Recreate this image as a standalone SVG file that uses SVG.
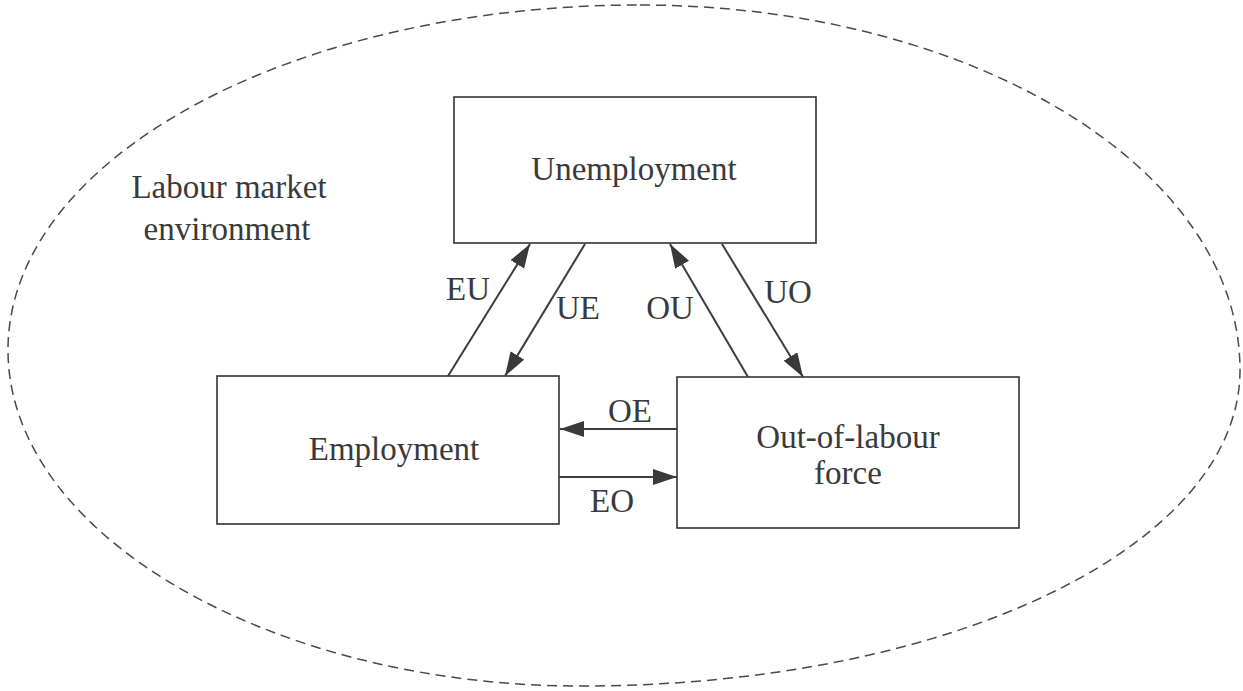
<svg xmlns="http://www.w3.org/2000/svg" width="1243" height="691" viewBox="0 0 1243 691">
  <style>
    .box { fill: #ffffff; stroke: #333333; stroke-width: 1.6; }
    .env { fill: none; stroke: #4a4a4a; stroke-width: 1.5; stroke-dasharray: 10 6; }
    .flow { fill: none; stroke: #3c3c3c; stroke-width: 2; marker-end: url(#head); }
    text { font-family: "Liberation Serif", "Times New Roman", serif; font-size: 33px; fill: #3a3a3a; }
    .c { text-anchor: middle; }
  </style>
  <defs>
    <marker id="head" markerUnits="userSpaceOnUse" markerWidth="26" markerHeight="18" refX="24" refY="8" orient="auto">
      <path d="M0,0 L24,8 L0,16 Z" fill="#3a3a3a"/>
    </marker>
  </defs>

  <rect width="1243" height="691" fill="#ffffff"/>

  <!-- labour market environment boundary -->
  <g id="environment">
    <path class="env" d="M640,5 C971,5 1240,168 1240,370 C1240,545 953,686 580,686 C273,686 8,536 8,350 C8,159 291,5 640,5 Z"/>
    <text x="229" y="198" class="c">Labour market</text>
    <text x="227" y="240" class="c">environment</text>
  </g>

  <g id="unemployment">
    <rect class="box" x="454" y="97" width="362" height="146"/>
    <text x="634" y="180" class="c">Unemployment</text>
  </g>

  <g id="employment">
    <rect class="box" x="217" y="376" width="342" height="148"/>
    <text x="394" y="460" class="c">Employment</text>
  </g>

  <g id="out-of-labour-force">
    <rect class="box" x="677" y="377" width="342" height="151"/>
    <text x="848" y="448" class="c">Out-of-labour</text>
    <text x="848" y="484" class="c">force</text>
  </g>

  <!-- flows between states -->
  <g id="connectors">
    <line class="flow" x1="448" y1="376" x2="530" y2="244"/>
    <line class="flow" x1="585" y1="244" x2="505" y2="376"/>
    <line class="flow" x1="748" y1="377" x2="670" y2="244"/>
    <line class="flow" x1="722" y1="244" x2="803" y2="377"/>
    <line class="flow" x1="677" y1="429" x2="560" y2="429"/>
    <line class="flow" x1="559" y1="477" x2="677" y2="477"/>
    <text x="468" y="300" class="c">EU</text>
    <text x="578" y="319" class="c">UE</text>
    <text x="670" y="319" class="c">OU</text>
    <text x="788" y="303" class="c">UO</text>
    <text x="630" y="422" class="c">OE</text>
    <text x="612" y="512" class="c">EO</text>
  </g>
</svg>
